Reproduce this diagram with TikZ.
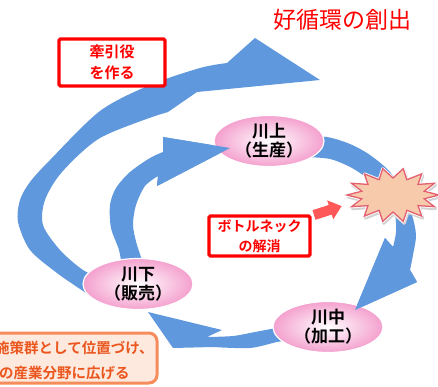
\documentclass[tikz,border=0pt]{standalone}
\usepackage{fontspec}
\setmainfont{Noto Sans CJK JP}
\newfontfamily\jpbold{Noto Sans CJK JP Bold}
\usetikzlibrary{shapes.geometric}
\definecolor{arrclr}{RGB}{96,152,222}
\definecolor{ellclr}{RGB}{244,160,206}
\definecolor{starclr}{RGB}{248,202,172}
\definecolor{stredge}{RGB}{226,96,112}
\definecolor{pushclr}{RGB}{255,88,88}
\definecolor{orgedge}{RGB}{246,140,92}
\definecolor{orgfill}{RGB}{253,233,221}
\definecolor{orgtxt}{RGB}{234,86,30}
\tikzset{ %
  ,>=latex
  ,stage/.style={ellipse, minimum width=110pt, minimum height=51pt, inner sep=0, shading=radial, inner color=white, outer color=ellclr, draw=white, line width=1.2pt, align=center, font=\jpbold\fontsize{17}{19}\selectfont}
  ,redbox/.style={draw=red, line width=3.4pt, fill=white, rounded corners=1.5pt, inner sep=0, align=center, text=red, font=\jpbold\fontsize{15}{21}\selectfont}
  ,flow/.style={fill=arrclr}
  ,orgline/.style={anchor=west, inner sep=0, text=orgtxt, font=\jpbold\fontsize{14.5}{16}\selectfont}
}
\begin{document}
\begin{tikzpicture}[x=1pt, y=-1pt]
      \useasboundingbox (0,0) rectangle (438,386);
      \clip (0,0) rectangle (438,386);
      % big outer arrow
      \fill[flow] plot[smooth] coordinates {(100,303) (83,291) (57,273) (30,250) (18,222) (20,200) (30,182) (50,160) (100,111) (150,85) (200,68) (227,63)}
        -- (255,38) -- (320,80) -- (197,92) -- (168,112)
        -- plot[smooth] coordinates {(158,115) (100,138) (62,172) (45,200) (43,225) (60,250) (83,270) (105,280)} -- cycle;
      % inner cycle
      \fill[flow] plot[smooth] coordinates {(305,137) (327,137) (350,144) (370,155) (390,172) (404,195) (412,215) (416,235) (413,255) (410,270)}
        -- (417,282) -- (355,310) -- (385,238)
        -- plot[smooth] coordinates {(393,247) (396,232) (395,215) (387,198) (372,182) (352,168) (330,159) (305,157)} -- cycle;
      \fill[flow] plot[smooth] coordinates {(292,327) (277,328) (255,332) (233,336) (207,337)}
        -- (222,330) -- (148,312) -- (173,348)
        -- plot[smooth] coordinates {(213,347) (250,348) (277,342) (292,340)} -- cycle;
      \fill[flow] plot[smooth] coordinates {(122,268) (119,250) (111,228) (110,205) (116,188) (130,172) (150,158) (163,152)}
        -- (163,137) -- (230,148) -- (157,186)
        -- plot[smooth] coordinates {(158,176) (145,186) (136,205) (133,225) (137,245) (145,268)} -- cycle;
      % stages
      \node[stage] (up) at (269,141) {川上\\（生産）};
      \node[stage] (down) at (138,284) {川下\\（販売）};
      \node[stage] (mid) at (328,327) {川中\\（加工）};
      \fill[flow] (163,137) -- (230,148) -- (157,186) -- (158,176) -- (163,152) -- cycle;
      \fill[flow] (385,238) -- (355,310) -- (417,282) -- (410,270) -- (393,247) -- cycle;
      % bottleneck
      \draw[gray!35, line width=3pt, line join=round] plot[samples at={0,...,27}, variable=\k] ({394+(mod(\k,2)==0 ? 46 : 32)*cos(\k*360/28)}, {197+(mod(\k,2)==0 ? 27 : 17)*sin(\k*360/28)}) -- cycle;
      \draw[white, line width=3pt, line join=round] plot[samples at={0,...,27}, variable=\k] ({393+(mod(\k,2)==0 ? 46 : 32)*cos(\k*360/28)}, {195+(mod(\k,2)==0 ? 27 : 17)*sin(\k*360/28)}) -- cycle;
      \draw[stredge, fill=starclr, line width=1.3pt] plot[samples at={0,...,27}, variable=\k] ({393+(mod(\k,2)==0 ? 46 : 32)*cos(\k*360/28)}, {195+(mod(\k,2)==0 ? 27 : 17)*sin(\k*360/28)}) -- cycle;
      \coordinate (neck) at (393,195);
      \fill[pushclr] (312.5,210.2) -- (328.7,205.0) -- (327.1,200.3) -- (341.6,206.1) -- (333.3,219.3) -- (331.7,214.6) -- (315.5,219.8) -- cycle;
      % labels
      \node[text=red, inner sep=0, font=\fontsize{23}{26}\selectfont] (title) at (342,20) {好循環の創出};
      \node[redbox, minimum width=106pt, minimum height=47pt] (lead) at (112,62.5) {牽引役\\を作る};
      \node[redbox, minimum width=101pt, minimum height=40pt, font=\jpbold\fontsize{14}{20}\selectfont] (solve) at (259.5,236) {ボトルネック\\の解消};
      \draw[orgedge, fill=orgfill, line width=3pt, rounded corners=8pt] (-20,333) rectangle (157,383);
      \node[orgline] (plan1) at (-5,348) {施策群として位置づけ、};
      \node[orgline] (plan2) at (-1,373) {の産業分野に広げる};
    \end{tikzpicture}
\end{document}
